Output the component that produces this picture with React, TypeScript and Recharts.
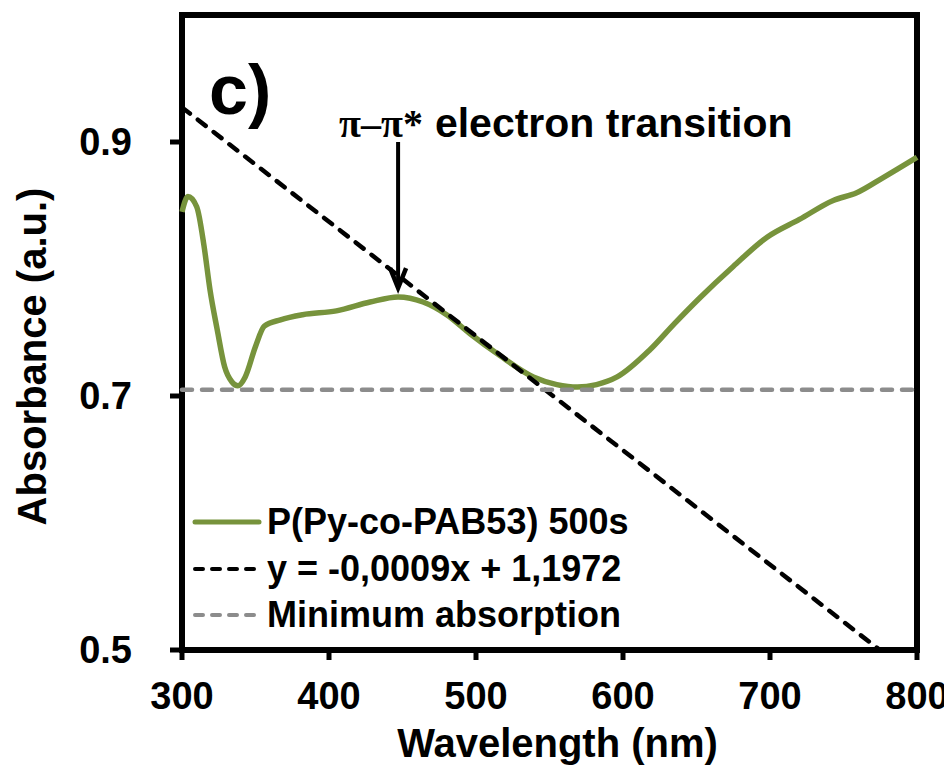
import {
  ComposedChart,
  Line,
  XAxis,
  YAxis,
  ReferenceArea,
  ReferenceLine,
  Legend,
  Label,
} from "recharts"

const SANS = '"Liberation Sans", Arial, sans-serif'
const SERIF = '"Liberation Serif", "Times New Roman", serif'

// spectrum
const wavelengths = [
  300, 304, 310, 315, 319, 324, 329, 334, 338, 343, 350, 356, 367, 382, 405, 428,
  447, 464, 480, 496, 516, 539, 555, 569, 582, 596, 618, 635, 652, 675, 698, 720,
  743, 759, 777, 800,
]
const absorbance = [
  0.845, 0.857, 0.849, 0.818, 0.784, 0.752, 0.723, 0.711, 0.708, 0.715, 0.739,
  0.755, 0.76, 0.764, 0.767, 0.774, 0.778, 0.774, 0.764, 0.749, 0.732, 0.715,
  0.709, 0.707, 0.709, 0.715, 0.736, 0.757, 0.777, 0.802, 0.825, 0.839, 0.854,
  0.86, 0.872, 0.888,
]

// tangent line endpoints (y = -0,0009x + 1,1972)
const trendX = [300, 800]
const trendY = [0.9272, 0.4772]

// minimum absorption level
const minX = [300, 800]
const minY = [0.705, 0.705]

const xTicks = [300, 400, 500, 600, 700, 800]
const yTicks = [0.5, 0.7, 0.9]

const seriesNames = [
  "P(Py-co-PAB53) 500s",
  "y = -0,0009x + 1,1972",
  "Minimum absorption",
]

// arrow annotation (x in nm, from / to in absorbance)
const arrowX = 447
const arrowFrom = 0.9
const arrowTo = 0.785

const spectrum = wavelengths.map((x, i) => ({ x, a: absorbance[i] }))
const trend = trendX.map((x, i) => ({ x, t: trendY[i] }))
const minimum = minX.map((x, i) => ({ x, m: minY[i] }))

function ArrowShape(props: any) {
  const { x1, y1, x2, y2 } = props
  return (
    <g>
      <line x1={x1} y1={y1} x2={x2} y2={y2 - 2} stroke="#000" strokeWidth={4} />
      <polyline
        points={`${x2 - 8},${y2 - 20} ${x2},${y2} ${x2 + 8},${y2 - 20}`}
        fill="none"
        stroke="#000"
        strokeWidth={4.5}
      />
      <text x={x1 - 59} y={y1 - 5} fill="#000">
        <tspan fontFamily={SERIF} fontSize={40} fontWeight="bold">
          π–π*
        </tspan>
        <tspan fontFamily={SANS} fontSize={41} fontWeight="bold" dx={12}>
          electron transition
        </tspan>
      </text>
    </g>
  )
}

function LegendContent(props: any) {
  const items = [...(props.payload || [])].sort(
    (a: any, b: any) => seriesNames.indexOf(a.value) - seriesNames.indexOf(b.value)
  )
  return (
    <div style={{ fontFamily: SANS }}>
      {items.map((entry: any) => {
        const p = entry.payload || {}
        return (
          <div
            key={entry.value}
            style={{ display: "flex", alignItems: "center", height: 46.5 }}
          >
            <svg width={70} height={20}>
              <line
                x1={3}
                y1={10}
                x2={67}
                y2={10}
                stroke={entry.color}
                strokeWidth={p.strokeDasharray ? 4 : 5}
                strokeDasharray={p.strokeDasharray ? "8 9" : undefined}
                strokeLinecap="round"
              />
            </svg>
            <span
              style={{
                marginLeft: 5,
                fontSize: 36,
                fontWeight: "bold",
                color: "#000",
                whiteSpace: "nowrap",
              }}
            >
              {entry.value}
            </span>
          </div>
        )
      })}
    </div>
  )
}

const tickStyle = {
  fill: "#000",
  fontSize: 38,
  fontWeight: "bold",
  fontFamily: SANS,
}

export default function App() {
  return (
    <div>
      <ComposedChart
        width={944}
        height={761}
        margin={{ top: 7, right: 35, bottom: 0, left: 0 }}
      >
        <XAxis
          dataKey="x"
          type="number"
          domain={[300, 800]}
          ticks={xTicks}
          axisLine={false}
          tickLine={{ stroke: "#000", strokeWidth: 5 }}
          tickSize={10}
          tickMargin={22}
          tick={tickStyle}
          height={119}
        >
          <Label
            content={(p: any) => {
              const vb = p.viewBox
              return (
                <text
                  x={vb.x + vb.width / 2 + 8}
                  y={vb.y + 107}
                  textAnchor="middle"
                  fontFamily={SANS}
                  fontSize={40}
                  fontWeight="bold"
                  fill="#000"
                >
                  Wavelength (nm)
                </text>
              )
            }}
          />
        </XAxis>
        <YAxis
          type="number"
          domain={[0.5, 1.0]}
          allowDataOverflow
          ticks={yTicks}
          tickFormatter={(v: number) => v.toFixed(1)}
          axisLine={false}
          tickLine={{ stroke: "#000", strokeWidth: 5 }}
          tickSize={12}
          tickMargin={38}
          tick={tickStyle}
          width={174}
        >
          <Label
            content={(p: any) => {
              const vb = p.viewBox
              const cx = 38
              const cy = vb.y + vb.height / 2 + 24
              return (
                <text
                  x={cx}
                  y={cy}
                  transform={`rotate(-90, ${cx}, ${cy})`}
                  textAnchor="middle"
                  fontFamily={SANS}
                  fontSize={40}
                  fontWeight="bold"
                  fill="#000"
                >
                  Absorbance (a.u.)
                </text>
              )
            }}
          />
        </YAxis>
        <Line
          data={spectrum}
          dataKey="a"
          name={seriesNames[0]}
          type="monotone"
          stroke="#77933C"
          strokeWidth={5.5}
          dot={false}
          activeDot={false}
          isAnimationActive={false}
        />
        <Line
          data={trend}
          dataKey="t"
          name={seriesNames[1]}
          type="linear"
          stroke="#000"
          strokeWidth={4.5}
          strokeDasharray="10 10"
          strokeLinecap="round"
          dot={false}
          activeDot={false}
          isAnimationActive={false}
        />
        <Line
          data={minimum}
          dataKey="m"
          name={seriesNames[2]}
          type="linear"
          stroke="#8C8C8C"
          strokeWidth={4.5}
          strokeDasharray="10 10"
          strokeLinecap="round"
          dot={false}
          activeDot={false}
          isAnimationActive={false}
        />
        <ReferenceArea
          x1={300}
          x2={800}
          y1={0.5}
          y2={1.0}
          fill="none"
          fillOpacity={0}
          stroke="#000"
          strokeWidth={6}
        >
          <Label
            content={(p: any) => {
              const vb = p.viewBox
              return (
                <text
                  x={vb.x + 27}
                  y={vb.y + 99}
                  fontFamily={SANS}
                  fontSize={70}
                  fontWeight="bold"
                  fill="#000"
                >
                  c)
                </text>
              )
            }}
          />
        </ReferenceArea>
        <ReferenceLine
          segment={[
            { x: arrowX, y: arrowFrom },
            { x: arrowX, y: arrowTo },
          ]}
          shape={ArrowShape}
        />
        <Legend
          layout="vertical"
          align="center"
          verticalAlign="middle"
          wrapperStyle={{ left: 184, top: 491, width: "auto" }}
          content={LegendContent}
        />
      </ComposedChart>
    </div>
  )
}
